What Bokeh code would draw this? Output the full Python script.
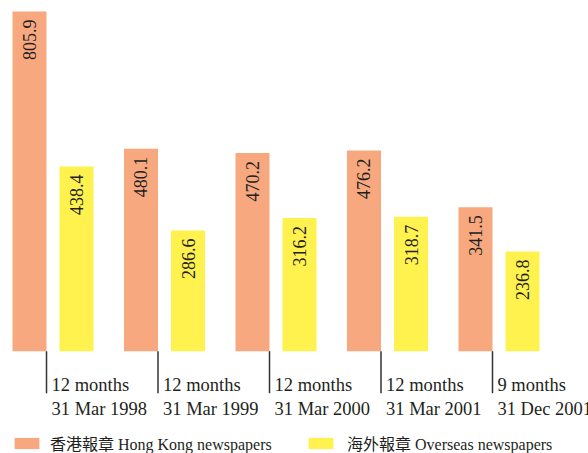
from bokeh.plotting import figure
from bokeh.models import Range1d, Legend, LegendItem, ColumnDataSource
from bokeh.core.properties import value
from bokeh.embed import file_html
from bokeh.resources import INLINE

# ---- data ----
period_line1 = ["12 months", "12 months", "12 months", "12 months", "9 months"]
period_line2 = ["31 Mar 1998", "31 Mar 1999", "31 Mar 2000", "31 Mar 2001", "31 Dec 2001"]
hk_newspapers = [805.9, 480.1, 470.2, 476.2, 341.5]
overseas_newspapers = [438.4, 286.6, 316.2, 318.7, 236.8]
label_hk = "香港報章 Hong Kong newspapers"
label_os = "海外報章 Overseas newspapers"

HK_COLOR = "#F7A87F"
OS_COLOR = "#FFF24F"
TEXT_COLOR = "#231F20"
FONT_STR = "'Liberation Serif', 'Noto Sans CJK TC', serif"
FONT = value(FONT_STR)

idx = list(range(len(hk_newspapers)))
off = 0.2108
bw = 0.305

src = ColumnDataSource(dict(
    xhk=[i - off for i in idx],
    xos=[i + off for i in idx],
    xsep=[i - off + bw / 2 for i in idx],
    hk=hk_newspapers,
    os=overseas_newspapers,
    hk_txt=[f"{v:.1f}" for v in hk_newspapers],
    os_txt=[f"{v:.1f}" for v in overseas_newspapers],
    cat=[a + "\n" + b for a, b in zip(period_line1, period_line2)],
    zero=[0] * len(idx),
    sep_end=[-99.6] * len(idx),
))

p = figure(width=588, height=453, output_backend="svg", toolbar_location=None,
           x_axis_type=None, y_axis_type=None, min_border=0,
           x_range=Range1d(-0.4709, 4.8027), y_range=Range1d(-242.7, 832.0))
p.outline_line_color = None
p.xgrid.visible = False
p.ygrid.visible = False

r_hk = p.vbar(x="xhk", top="hk", bottom=0, width=bw, source=src,
              fill_color=HK_COLOR, line_color=None)
r_os = p.vbar(x="xos", top="os", bottom=0, width=bw, source=src,
              fill_color=OS_COLOR, line_color=None)

for xcol, ycol, tcol in (("xhk", "hk", "hk_txt"), ("xos", "os", "os_txt")):
    p.text(x=xcol, y=ycol, text=tcol, source=src, angle=1.5708,
           text_align="right", text_baseline="middle", y_offset=8,
           text_font=FONT, text_font_size="18px", text_color=TEXT_COLOR)

p.segment(x0="xsep", y0="zero", x1="xsep", y1="sep_end", source=src,
          line_color="#333333", line_width=1.5)

p.text(x="xsep", y="zero", text="cat", source=src, x_offset=5, y_offset=24,
       text_align="left", text_baseline="top", text_font=FONT,
       text_font_size="18.5px", text_color=TEXT_COLOR, text_line_height=1.2)

for label, rend, loc, stand in ((label_hk, r_hk, (11, -2), 8),
                                (label_os, r_os, (305, -2), 11)):
    leg = Legend(items=[LegendItem(label=label, renderers=[rend])],
                 location=loc, orientation="horizontal",
                 glyph_width=31, glyph_height=14, label_standoff=stand,
                 label_height=14, padding=0, margin=0, spacing=0,
                 border_line_color=None, background_fill_alpha=0,
                 label_text_font=FONT_STR, label_text_font_size="16px",
                 label_text_color=TEXT_COLOR)
    p.add_layout(leg)

open("out.html", "w").write(file_html(p, INLINE))
